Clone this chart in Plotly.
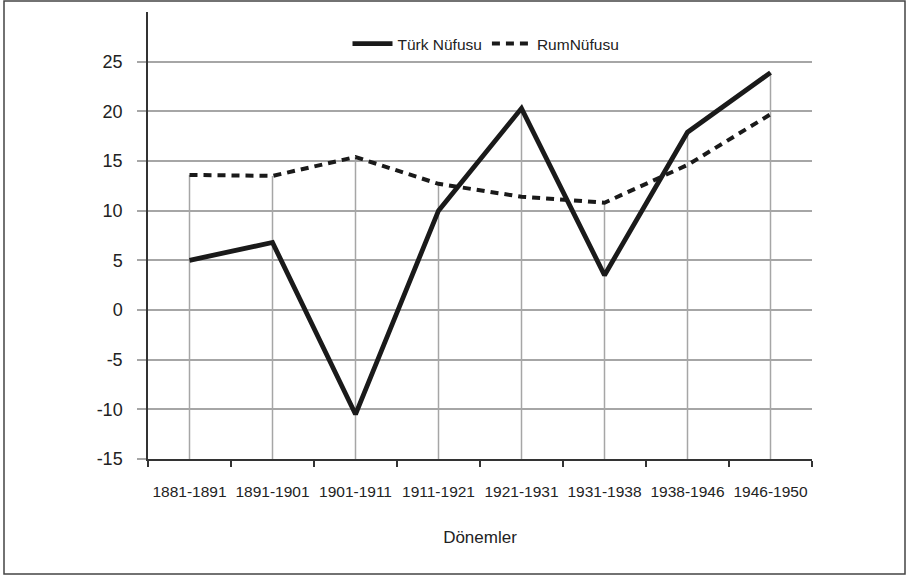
import plotly.graph_objects as go

periods = ["1881-1891", "1891-1901", "1901-1911", "1911-1921",
           "1921-1931", "1931-1938", "1938-1946", "1946-1950"]
turk = [5.0, 6.8, -10.5, 10.0, 20.3, 3.5, 17.9, 23.9]
rum = [13.6, 13.5, 15.4, 12.7, 11.4, 10.8, 14.6, 19.7]
y_ticks = [-15, -10, -5, 0, 5, 10, 15, 20, 25]
y_labels = [str(v) for v in y_ticks]
y_min, y_max = -15, 30

regular = "Liberation Sans, Arial, sans-serif"

# drop lines from the higher of the two points at each period down to the axis
drop_x, drop_y = [], []
for p, a, b in zip(periods, turk, rum):
    drop_x += [p, p, None]
    drop_y += [max(a, b), y_min, None]

fig = go.Figure()
fig.add_trace(go.Scatter(x=drop_x, y=drop_y, mode="lines",
                         line=dict(color="#a6a6a6", width=1.5),
                         showlegend=False, hoverinfo="skip"))
fig.add_trace(go.Scatter(x=periods, y=turk, mode="lines", name="Türk Nüfusu",
                         line=dict(color="#1a1a1a", width=4.8)))
fig.add_trace(go.Scatter(x=periods, y=rum, mode="lines", name="RumNüfusu",
                         line=dict(color="#1a1a1a", width=4, dash="8px,6px")))

L, R, T, B = 148, 812, 12, 459
W, H = 906, 578
pw, ph = R - L, B - T

fig.update_layout(
    width=W, height=H,
    margin=dict(l=L, r=W - R, t=T, b=H - B, autoexpand=False),
    paper_bgcolor="white", plot_bgcolor="white",
    showlegend=True,
    legend=dict(orientation="h", x=(486 - L) / pw, xanchor="center",
                y=(B - 44) / ph, yanchor="middle",
                font=dict(family=regular, size=15.5, color="#222"),
                bgcolor="rgba(0,0,0,0)", tracegroupgap=0, itemwidth=40),
    xaxis=dict(type="category", categoryorder="array", categoryarray=periods,
               range=[-0.5, len(periods) - 0.5], automargin=False,
               showgrid=False, zeroline=False,
               showline=True, linecolor="#333", linewidth=1.5,
               ticks="outside", tickson="boundaries", ticklen=6,
               tickcolor="#333", tickwidth=1.5, tickangle=0,
               tickfont=dict(family=regular, size=15.5, color="#222"),
               ticklabelstandoff=18,
               title=dict(text="Dönemler", standoff=32,
                          font=dict(family=regular, size=17, color="#222"))),
    yaxis=dict(range=[y_min, y_max], tickvals=y_ticks, ticktext=y_labels,
               automargin=False,
               showgrid=True, gridcolor="#a6a6a6", gridwidth=1.5,
               zeroline=False,
               showline=True, linecolor="#333", linewidth=1.5,
               ticks="outside", ticklen=9, tickcolor="#a6a6a6", tickwidth=1.5,
               tickfont=dict(family=regular, size=18, color="#222"),
               ticklabelstandoff=11),
    shapes=[dict(type="rect", xref="paper", yref="paper",
                 x0=(4 - L) / pw, x1=(905 - L) / pw,
                 y0=(B - 574) / ph, y1=(B - 1) / ph,
                 line=dict(color="#444", width=1.5), fillcolor="rgba(0,0,0,0)",
                 layer="below")],
)

fig.write_html("out.html",
               config={"displayModeBar": False},
               post_script="document.body.style.margin='0';"
                           "document.body.style.overflow='hidden';")
